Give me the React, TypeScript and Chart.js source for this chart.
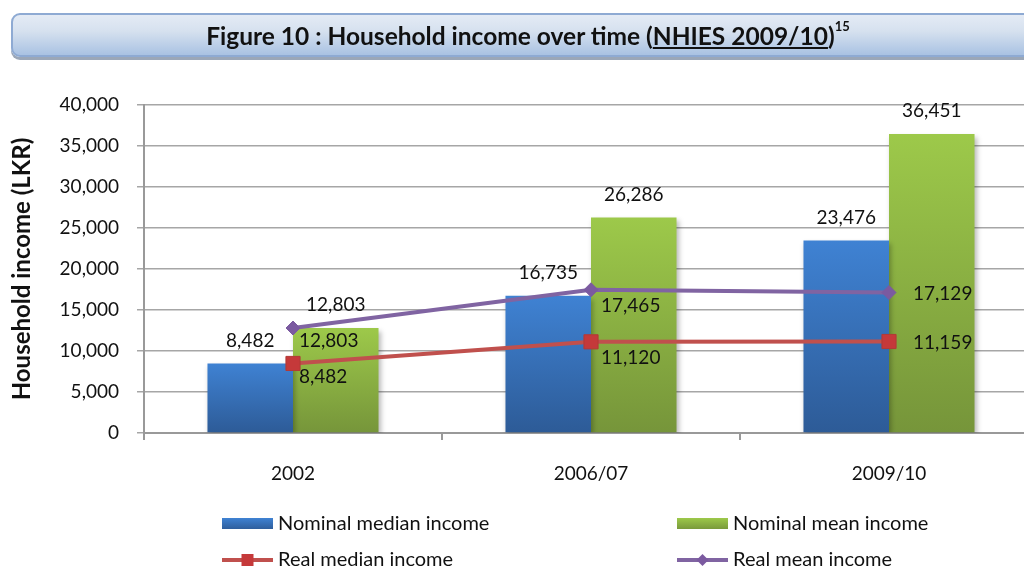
import React, { useEffect, useRef } from "react";
import { Chart, registerables } from "chart.js";

Chart.register(...registerables);

const categories = ["2002", "2006/07", "2009/10"];
const nominalMedian = [8482, 16735, 23476];
const nominalMean = [12803, 26286, 36451];
const realMedian = [8482, 11120, 11159];
const realMean = [12803, 17465, 17129];
const seriesNames = [
  "Nominal median income",
  "Nominal mean income",
  "Real median income",
  "Real mean income",
];
const yMin = 0;
const yMax = 40000;
const yStep = 5000;
const yTitle = "Household income (LKR)";

const FONT = "Lato, 'Open Sans', sans-serif";
const fmt = (n: number) => n.toLocaleString("en-US");

const BLUE_TOP = "#3f82d3";
const BLUE_BOT = "#2d5b97";
const GREEN_TOP = "#9dc94a";
const GREEN_BOT = "#76953a";
const RED = "#c0504d";
const RED_MK = "#c5393a";
const PURPLE = "#8064a2";
const PURPLE_MK = "#7b5aa0";

function barGradient(top: string, bot: string) {
  return (ctx: any) => {
    const chart = ctx.chart;
    const ys = chart.scales && chart.scales.y;
    if (!ys || ctx.type !== "data") return top;
    const v = ctx.raw as number;
    const y0 = ys.getPixelForValue(v);
    const y1 = ys.getPixelForValue(0);
    if (!isFinite(y0) || !isFinite(y1) || y0 === y1) return top;
    const g = chart.ctx.createLinearGradient(0, y0, 0, y1);
    g.addColorStop(0, top);
    g.addColorStop(1, bot);
    return g;
  };
}

// label offsets (style) for line-series labels, per category
const lineLabelOffsets = [
  [6, 13],
  [10, 16],
  [24, 1],
];

const labelsPlugin = {
  id: "valueLabels",
  afterDatasetsDraw(chart: any) {
    const ctx = chart.ctx;
    ctx.save();
    ctx.font = `19px ${FONT}`;
    ctx.fillStyle = "#111";
    ctx.textBaseline = "middle";
    chart.data.datasets.forEach((ds: any, di: number) => {
      const meta = chart.getDatasetMeta(di);
      meta.data.forEach((el: any, i: number) => {
        const txt = fmt(ds.data[i]);
        if (ds.type === "bar") {
          ctx.textAlign = "center";
          ctx.fillText(txt, el.x, el.y - 23);
        } else {
          const [dx, dy] = lineLabelOffsets[i];
          ctx.textAlign = "left";
          ctx.fillText(txt, el.x + dx, el.y + dy);
        }
      });
    });
    ctx.restore();
  },
};

const shadowPlugin = {
  id: "barShadow",
  beforeDatasetDraw(chart: any, args: any) {
    const ds = chart.data.datasets[args.index];
    if (ds.type !== "bar") return;
    const ctx = chart.ctx;
    ctx.save();
    ctx.shadowColor = "rgba(0,0,0,0.28)";
    ctx.shadowBlur = 5;
    ctx.shadowOffsetX = 2;
    ctx.shadowOffsetY = 3;
  },
  afterDatasetDraw(chart: any, args: any) {
    const ds = chart.data.datasets[args.index];
    if (ds.type !== "bar") return;
    chart.ctx.restore();
  },
};

const legendPlugin = {
  id: "gridLegend",
  afterDraw(chart: any) {
    const ctx = chart.ctx;
    const ds = chart.data.datasets;
    const cols = [222, 677];
    const rows = [524, 560];
    const sw = 51;
    ctx.save();
    ctx.font = `20px ${FONT}`;
    ctx.textBaseline = "middle";
    ctx.textAlign = "left";
    ds.forEach((d: any, i: number) => {
      const x = cols[i % 2];
      const y = rows[Math.floor(i / 2)];
      if (d.type === "bar") {
        const g = ctx.createLinearGradient(0, y - 6, 0, y + 6);
        g.addColorStop(0, d.legendTop);
        g.addColorStop(1, d.legendBot);
        ctx.fillStyle = g;
        ctx.fillRect(x, y - 6, sw, 11);
      } else {
        ctx.strokeStyle = d.borderColor;
        ctx.lineWidth = 4;
        ctx.beginPath();
        ctx.moveTo(x, y);
        ctx.lineTo(x + sw, y);
        ctx.stroke();
        ctx.fillStyle = d.pointBackgroundColor;
        const cx = x + sw / 2;
        if (d.pointStyle === "rect") {
          ctx.fillRect(cx - 6, y - 6, 12, 12);
        } else {
          ctx.beginPath();
          ctx.moveTo(cx, y - 6);
          ctx.lineTo(cx + 6, y);
          ctx.lineTo(cx, y + 6);
          ctx.lineTo(cx - 6, y);
          ctx.closePath();
          ctx.fill();
        }
      }
      ctx.fillStyle = "#111";
      ctx.fillText(d.label, x + 56, y);
    });
    ctx.restore();
  },
};

export default function App() {
  const ref = useRef<HTMLCanvasElement | null>(null);

  useEffect(() => {
    if (!ref.current) return;
    const chart = new Chart(ref.current, {
      type: "bar",
      data: {
        labels: categories,
        datasets: [
          {
            type: "bar",
            label: seriesNames[0],
            data: nominalMedian,
            backgroundColor: barGradient(BLUE_TOP, BLUE_BOT),
            legendTop: BLUE_TOP,
            legendBot: BLUE_BOT,
            order: 2,
            categoryPercentage: 0.574,
            barPercentage: 1,
          } as any,
          {
            type: "bar",
            label: seriesNames[1],
            data: nominalMean,
            backgroundColor: barGradient(GREEN_TOP, GREEN_BOT),
            legendTop: GREEN_TOP,
            legendBot: GREEN_BOT,
            order: 2,
            categoryPercentage: 0.574,
            barPercentage: 1,
          } as any,
          {
            type: "line",
            label: seriesNames[2],
            data: realMedian,
            borderColor: RED,
            borderWidth: 4,
            pointStyle: "rect",
            pointRadius: 10,
            pointBackgroundColor: RED_MK,
            pointBorderColor: "#b23a36",
            pointBorderWidth: 1,
            order: 1,
          } as any,
          {
            type: "line",
            label: seriesNames[3],
            data: realMean,
            borderColor: PURPLE,
            borderWidth: 4,
            pointStyle: "rectRot",
            pointRadius: 7,
            pointBackgroundColor: PURPLE_MK,
            pointBorderColor: PURPLE_MK,
            pointBorderWidth: 1,
            order: 0,
          } as any,
        ],
      },
      options: {
        responsive: false,
        animation: false,
        devicePixelRatio: 1,
        layout: { padding: { top: 105, left: 0, right: 2, bottom: 0 } },
        plugins: {
          legend: { display: false },
          tooltip: { enabled: false },
          title: { display: false },
        },
        scales: {
          x: {
            type: "category",
            offset: true,
            grid: {
              offset: true,
              drawOnChartArea: false,
              drawTicks: true,
              tickLength: 7,
              color: "#999",
              lineWidth: 2,
            },
            border: { color: "#999", width: 2 },
            ticks: {
              color: "#111",
              font: { family: FONT, size: 19 },
              padding: 22,
            },
            afterFit: (s: any) => {
              s.height = 136;
            },
          },
          y: {
            min: yMin,
            max: yMax,
            ticks: {
              stepSize: yStep,
              color: "#111",
              font: { family: FONT, size: 19 },
              padding: 18,
              callback: (v: any) => fmt(Number(v)),
            },
            grid: {
              color: "#a6a6a6",
              lineWidth: 1.5,
              tickLength: 7,
            },
            border: { color: "#999", width: 2 },
            title: {
              display: true,
              text: yTitle,
              color: "#111",
              font: { family: FONT, size: 24, weight: "bold" },
              padding: { top: 8, bottom: 0 },
            },
            afterFit: (s: any) => {
              s.width = 144;
            },
          },
        },
      },
      plugins: [shadowPlugin, labelsPlugin, legendPlugin],
    } as any);
    return () => chart.destroy();
  }, []);

  return (
    <div
      style={{
        position: "absolute",
        left: 0,
        top: 0,
        width: 1024,
        height: 569,
        overflow: "hidden",
        background: "#fff",
      }}
    >
      <canvas
        ref={ref}
        width={1049}
        height={569}
        style={{ position: "absolute", left: 0, top: 0, width: 1049, height: 569 }}
      />
      <div
        style={{
          position: "absolute",
          left: 11,
          top: 13,
          width: 1030,
          height: 40,
          border: "2px solid #8eaad3",
          borderRadius: 9,
          background:
            "linear-gradient(to bottom, #e4ebf5 0%, #d6e1ef 40%, #a9c2e3 100%)",
          boxShadow: "0 3px 0 #9ba7b8",
          display: "flex",
          alignItems: "center",
          justifyContent: "center",
          fontFamily: FONT,
          fontWeight: 700,
          fontSize: 24.5,
          color: "#111",
          whiteSpace: "nowrap",
        }}
      >
        <span>
          Figure 10 : Household income over time (
          <span style={{ textDecoration: "underline" }}>NHIES 2009/10</span>)
          <sup style={{ fontSize: 13, verticalAlign: "top", position: "relative", top: -3 }}>15</sup>
        </span>
      </div>
    </div>
  );
}
